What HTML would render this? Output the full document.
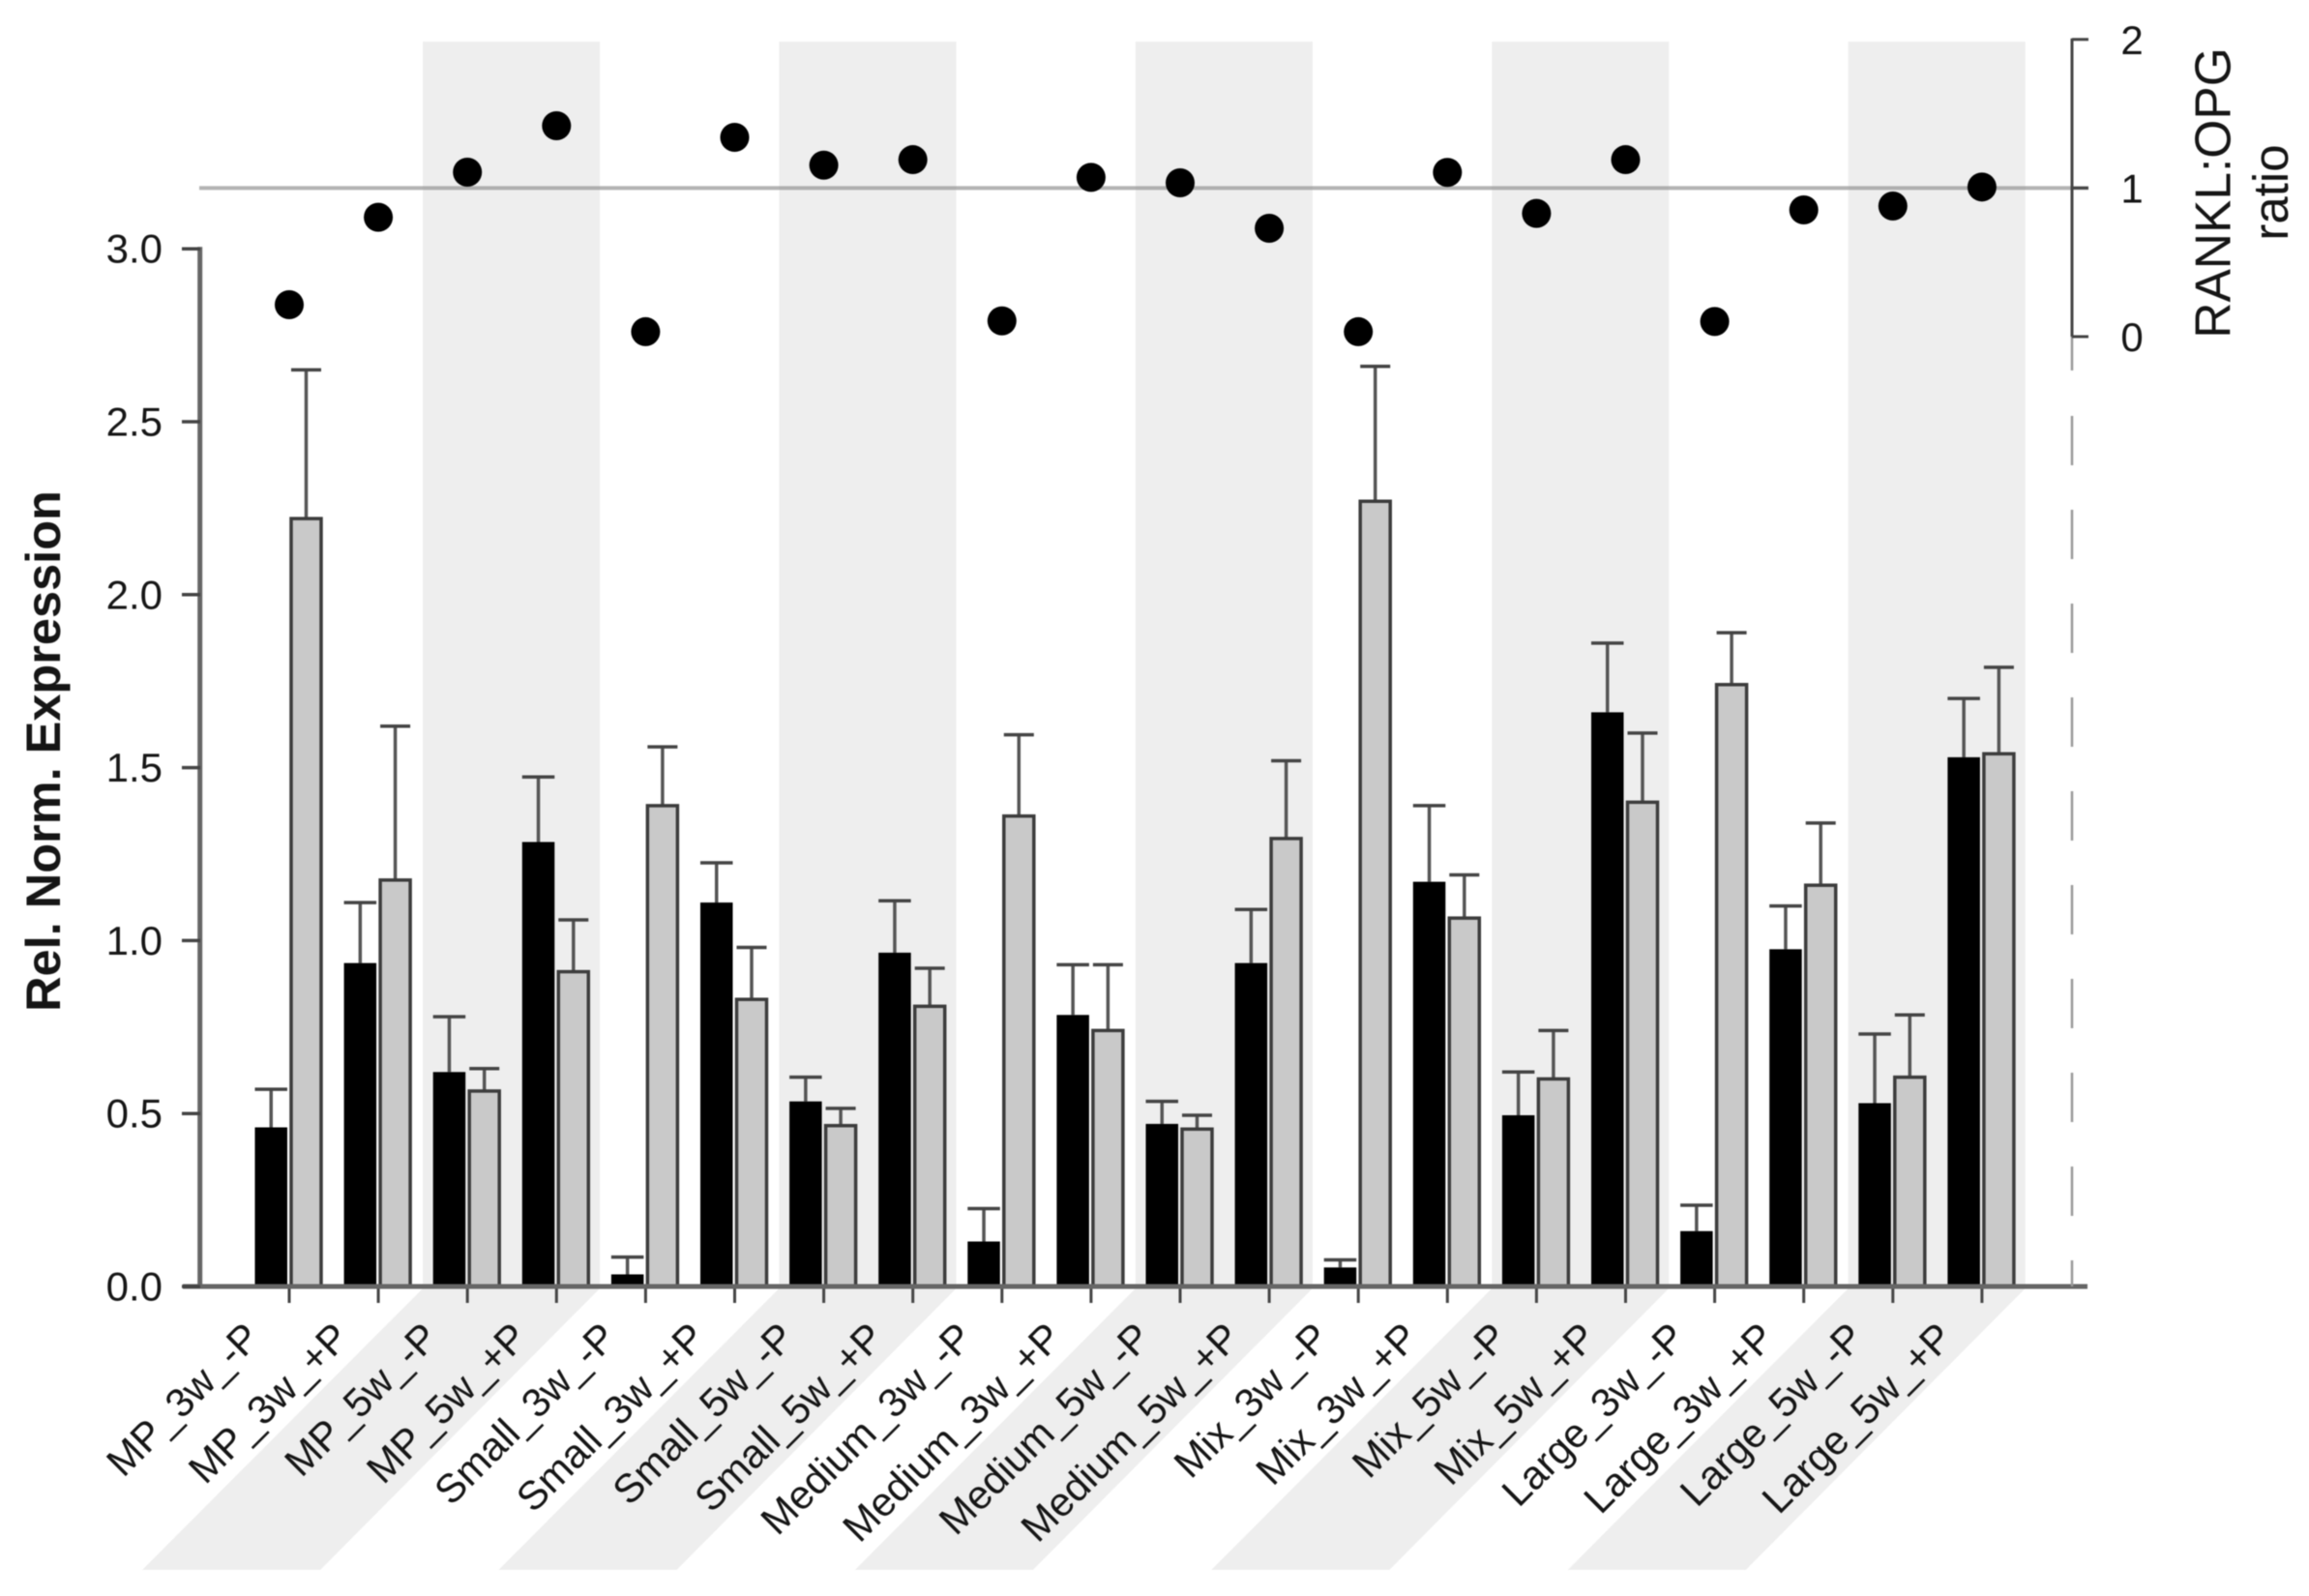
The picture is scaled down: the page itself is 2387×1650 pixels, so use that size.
<!DOCTYPE html>
<html lang="en">
<head>
<meta charset="utf-8">
<title>RANKL:OPG expression chart</title>
<style>
html,body{margin:0;padding:0;background:#fff;}
svg{display:block;filter:blur(0.6px);}
text{font-family:"Liberation Sans",sans-serif;fill:#151515;}
</style>
</head>
<body>
<svg id="chart" xmlns="http://www.w3.org/2000/svg" width="2387" height="1650" viewBox="0 0 2387 1650"></svg>
<script>
const categories = ["MP_3w_-P","MP_3w_+P","MP_5w_-P","MP_5w_+P","Small_3w_-P","Small_3w_+P","Small_5w_-P","Small_5w_+P","Medium_3w_-P","Medium_3w_+P","Medium_5w_-P","Medium_5w_+P","Mix_3w_-P","Mix_3w_+P","Mix_5w_-P","Mix_5w_+P","Large_3w_-P","Large_3w_+P","Large_5w_-P","Large_5w_+P"];
const blackValues = [0.46,0.935,0.62,1.285,0.035,1.11,0.535,0.965,0.13,0.785,0.47,0.935,0.055,1.17,0.495,1.66,0.16,0.975,0.53,1.53];
const blackErrorTops = [0.57,1.11,0.78,1.473,0.085,1.225,0.605,1.115,0.225,0.93,0.535,1.09,0.077,1.39,0.62,1.86,0.235,1.10,0.73,1.70];
const grayValues = [2.22,1.175,0.565,0.91,1.39,0.83,0.465,0.81,1.36,0.74,0.455,1.295,2.27,1.065,0.60,1.40,1.74,1.16,0.605,1.54];
const grayErrorTops = [2.65,1.62,0.63,1.06,1.56,0.98,0.515,0.92,1.595,0.93,0.495,1.52,2.66,1.19,0.74,1.60,1.89,1.34,0.785,1.79];
const ratioValues = [0.215,0.803,1.107,1.419,0.033,1.341,1.154,1.191,0.106,1.072,1.035,0.729,0.033,1.105,0.829,1.191,0.102,0.853,0.879,1.007];
const leftTicks = [0,0.5,1,1.5,2,2.5,3];
const leftTickLabels = ["0.0","0.5","1.0","1.5","2.0","2.5","3.0"];
const rightTicks = [0,1,2];
const rightTickLabels = ["0","1","2"];
const ratioReference = [1];

const NS = "http://www.w3.org/2000/svg";
const svg = document.getElementById("chart");
function xScale(i){ return 299 + 92.1 * i; }
function yLeft(v){ return 1330 - 357.6 * v; }
function yRight(v){ return 348 - 153.6 * v; }
function make(tag, attrs){
  const el = document.createElementNS(NS, tag);
  for (const k in attrs) el.setAttribute(k, attrs[k]);
  svg.appendChild(el);
  return el;
}

/* shaded bands: every other group of two categories */
for (let g = 0; g < 5; g++) {
  const bandLeft = xScale(4 * g + 1) + 46;
  const bandRight = bandLeft + 183;
  const band = make("rect", {x: bandLeft, y: 43, width: bandRight - bandLeft, height: 1287, fill: "#eeeeee"});
  
  
  const slant = make("polygon", {points: `${bandLeft},1332 ${bandRight},1332 ${bandRight-289},1623 ${bandLeft-290},1623`, fill: "#eeeeee"});
  
  
}

/* reference line */
ratioReference.forEach(v => {
  const refLine = make("line", {x1: 206, x2: 2159, y1: yRight(v), y2: yRight(v), stroke: "#999", "stroke-opacity": 0.75, "stroke-width": 4});
  
  
});

/* bars and error bars */
categories.forEach((c, i) => {
  const tx = xScale(i);
  const bLeft = tx - 35.5, bWidth = 33.5;
  const gLeft = tx + 2, gWidth = 31;

  const bStem = make("line", {x1: bLeft + bWidth/2, x2: bLeft + bWidth/2, y1: yLeft(blackValues[i]), y2: yLeft(blackErrorTops[i]), stroke: "#555", "stroke-width": 3.5});
  
  
  const bCap = make("line", {x1: bLeft, x2: bLeft + bWidth, y1: yLeft(blackErrorTops[i]), y2: yLeft(blackErrorTops[i]), stroke: "#444", "stroke-width": 3.5});
  
  
  const bBar = make("rect", {x: bLeft, y: yLeft(blackValues[i]), width: bWidth, height: yLeft(0) - yLeft(blackValues[i]), fill: "#000"});
  
  

  const gStem = make("line", {x1: gLeft + gWidth/2, x2: gLeft + gWidth/2, y1: yLeft(grayValues[i]), y2: yLeft(grayErrorTops[i]), stroke: "#555", "stroke-width": 3.5});
  
  
  const gCap = make("line", {x1: gLeft, x2: gLeft + gWidth, y1: yLeft(grayErrorTops[i]), y2: yLeft(grayErrorTops[i]), stroke: "#444", "stroke-width": 3.5});
  
  
  const gBar = make("rect", {x: gLeft, y: yLeft(grayValues[i]), width: gWidth, height: yLeft(0) - yLeft(grayValues[i]), fill: "#c9c9c9", stroke: "#3c3c3c", "stroke-width": 3.5});
  
  

  const tick = make("line", {x1: tx, x2: tx, y1: 1330, y2: 1347, stroke: "#444", "stroke-width": 3});
  
  

  const label = make("text", {transform: `translate(${tx - 28},1385) rotate(-45)`, "text-anchor": "end", "font-size": 41.5});
  label.textContent = c;
  
  

  const dot = make("circle", {cx: tx, cy: yRight(ratioValues[i]), r: 15, fill: "#000"});
  
  
});

/* left axis */
const leftAxis = make("line", {x1: 206.7, x2: 206.7, y1: yLeft(3) - 2, y2: 1330, stroke: "#666", "stroke-width": 5});


const bottomAxis = make("line", {x1: 189, x2: 2158, y1: 1330, y2: 1330, stroke: "#666", "stroke-width": 5});


leftTicks.forEach((v, i) => {
  const t = make("line", {x1: 188, x2: 207, y1: yLeft(v), y2: yLeft(v), stroke: "#444", "stroke-width": 3.5});
  
  
  const lab = make("text", {x: 168, y: yLeft(v) + 14.5, "text-anchor": "end", "font-size": 42});
  lab.textContent = leftTickLabels[i];
  
  
});
const yTitle = make("text", {transform: "translate(62,776.5) rotate(-90)", "text-anchor": "middle", "font-size": 50.5, "font-weight": "bold"});
yTitle.textContent = "Rel. Norm. Expression";



/* right axis */
const rightAxis = make("line", {x1: 2142, x2: 2142, y1: yRight(2) - 1, y2: yRight(0), stroke: "#444", "stroke-width": 3});


const rightAxisExt = make("line", {x1: 2142, x2: 2142, y1: yRight(0), y2: 383, stroke: "#999", "stroke-width": 2.5});


const rightDash = make("line", {x1: 2142, x2: 2142, y1: 430, y2: 1330, stroke: "#999", "stroke-width": 2.5, "stroke-dasharray": "51 46"});


rightTicks.forEach((v, i) => {
  const t = make("line", {x1: 2142, x2: 2159, y1: yRight(v), y2: yRight(v), stroke: "#444", "stroke-width": 3});
  
  
  const lab = make("text", {x: 2204, y: yRight(v) + 15, "text-anchor": "middle", "font-size": 42});
  lab.textContent = rightTickLabels[i];
  
  
});
const rTitle1 = make("text", {transform: "translate(2305.5,199.5) rotate(-90)", "text-anchor": "middle", "font-size": 51.5});
rTitle1.textContent = "RANKL:OPG";


const rTitle2 = make("text", {transform: "translate(2365,199) rotate(-90)", "text-anchor": "middle", "font-size": 51});
rTitle2.textContent = "ratio";


</script>
</body>
</html>
